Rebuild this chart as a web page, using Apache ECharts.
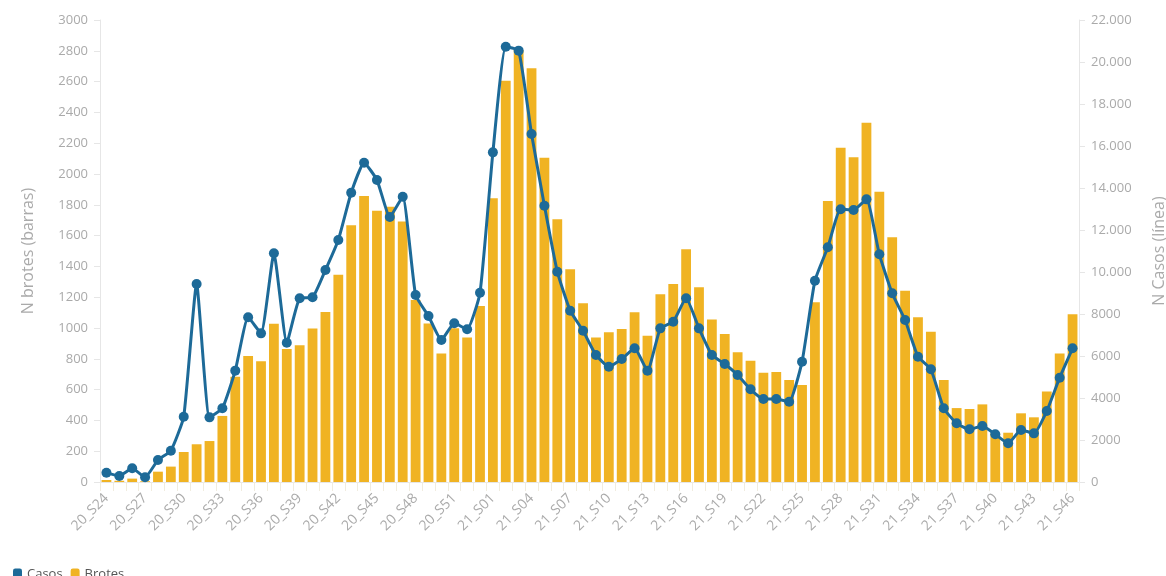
<!DOCTYPE html>
<html>
<head>
<meta charset="utf-8">
<script src="https://cdn.jsdelivr.net/npm/echarts@6/dist/echarts.min.js"></script>
<style>html,body{margin:0;padding:0;background:#fff}#c{width:1166px;height:576px}</style>
</head>
<body>
<div id="c"></div>
<script>
const weeks20 = [24,25,26,27,28,29,30,31,32,33,34,35,36,37,38,39,40,41,42,43,44,45,46,47,48,49,50,51,52,53];
const weeks21 = [1,2,3,4,5,6,7,8,9,10,11,12,13,14,15,16,17,18,19,20,21,22,23,24,25,26,27,28,29,30,31,32,33,34,35,36,37,38,39,40,41,42,43,44,45,46];
const categories = weeks20.map(w => '20_S' + String(w).padStart(2,'0'))
  .concat(weeks21.map(w => '21_S' + String(w).padStart(2,'0')));

const brotes = [
  13, 8, 22, 5, 67, 100, 195, 245, 266, 429,
  684, 818, 784, 1028, 864, 888, 996, 1104, 1346, 1668,
  1857, 1762, 1788, 1692, 1182, 1030, 835, 998, 939, 1143,
  1842, 2606, 2805, 2686, 2106, 1706, 1381, 1160, 939, 972,
  994, 1102, 950, 1219, 1286, 1511, 1264, 1056, 961, 842,
  788, 710, 714, 662, 630, 1167, 1825, 2171, 2108, 2333,
  1885, 1589, 1242, 1069, 976, 662, 480, 474, 504, 316,
  320, 446, 420, 587, 835, 1089
];

const casos = [
  444, 286, 651, 222, 1048, 1492, 3111, 9429, 3079, 3508,
  5302, 7841, 7079, 10889, 6635, 8746, 8794, 10095, 11524, 13778,
  15206, 14381, 12620, 13587, 8905, 7905, 6762, 7556, 7270, 9016,
  15698, 20730, 20540, 16571, 13159, 10016, 8159, 7200, 6048, 5492,
  5857, 6365, 5302, 7317, 7635, 8746, 7317, 6048, 5619, 5095,
  4413, 3952, 3950, 3825, 5730, 9587, 11175, 12984, 12952, 13460,
  10841, 8984, 7714, 5968, 5365, 3508, 2794, 2508, 2667, 2270,
  1841, 2476, 2317, 3381, 4968, 6365
];

const leftMax = 3000, leftStep = 200;
const rightMax = 22000, rightStep = 2000;

const fmtRight = v => v >= 10000 ? String(v).replace(/\B(?=(\d{3})+(?!\d))/g, '.') : String(v);

const chart = echarts.init(document.getElementById('c'));
const axisCol = '#aaaaaa';
const fontF = '"Open Sans", sans-serif';
chart.setOption({
  animation: false,
  textStyle: { fontFamily: fontF },
  grid: { left: 100, right: 87, top: 20, bottom: 94, containLabel: false, outerBoundsMode: 'none' },
  legend: {
    left: 8, top: 563, itemWidth: 9, itemHeight: 12, itemGap: 8,
    textStyle: { color: '#555', fontSize: 13, fontFamily: fontF },
    data: [ { name: 'Casos', icon: 'roundRect' }, { name: 'Brotes', icon: 'roundRect' } ]
  },
  xAxis: {
    type: 'category', data: categories, boundaryGap: true,
    axisLine: { lineStyle: { color: '#e6e6e6' } },
    axisTick: { show: true, interval: 0, length: 9, lineStyle: { color: '#f0ecdf' } },
    axisLabel: { interval: 2, rotate: 45, color: axisCol, fontSize: 14, fontFamily: fontF, margin: 14 }
  },
  yAxis: [
    {
      type: 'value', min: 0, max: leftMax, interval: leftStep,
      name: 'N brotes (barras)', nameLocation: 'middle', nameGap: 64, nameRotate: 90,
      nameTextStyle: { color: axisCol, fontSize: 16, fontFamily: fontF },
      axisLine: { show: true, lineStyle: { color: '#e6e6e6' } },
      axisTick: { show: true, length: 6, lineStyle: { color: '#e6e6e6' } },
      axisLabel: { color: axisCol, fontSize: 13, fontFamily: fontF, margin: 12, formatter: v => String(v) },
      splitLine: { show: false }
    },
    {
      type: 'value', min: 0, max: rightMax, interval: rightStep, position: 'right',
      name: 'N Casos (línea)', nameLocation: 'middle', nameGap: 72, nameRotate: 90,
      nameTextStyle: { color: axisCol, fontSize: 16, fontFamily: fontF },
      axisLine: { show: true, lineStyle: { color: '#e6e6e6' } },
      axisTick: { show: true, length: 6, lineStyle: { color: '#e6e6e6' } },
      axisLabel: { color: axisCol, fontSize: 13, fontFamily: fontF, margin: 12, formatter: fmtRight },
      splitLine: { show: false }
    }
  ],
  series: [
    {
      name: 'Brotes', type: 'bar', yAxisIndex: 0, data: brotes,
      barWidth: '76%', itemStyle: { color: '#F0B323' }, z: 1
    },
    {
      name: 'Casos', type: 'line', yAxisIndex: 1, data: casos,
      smooth: 0.15, symbol: 'circle', symbolSize: 10, showSymbol: true, showAllSymbol: true,
      lineStyle: { color: '#1D6A98', width: 3 },
      itemStyle: { color: '#1D6A98' }, z: 3
    }
  ]
});
</script>
</body>
</html>
